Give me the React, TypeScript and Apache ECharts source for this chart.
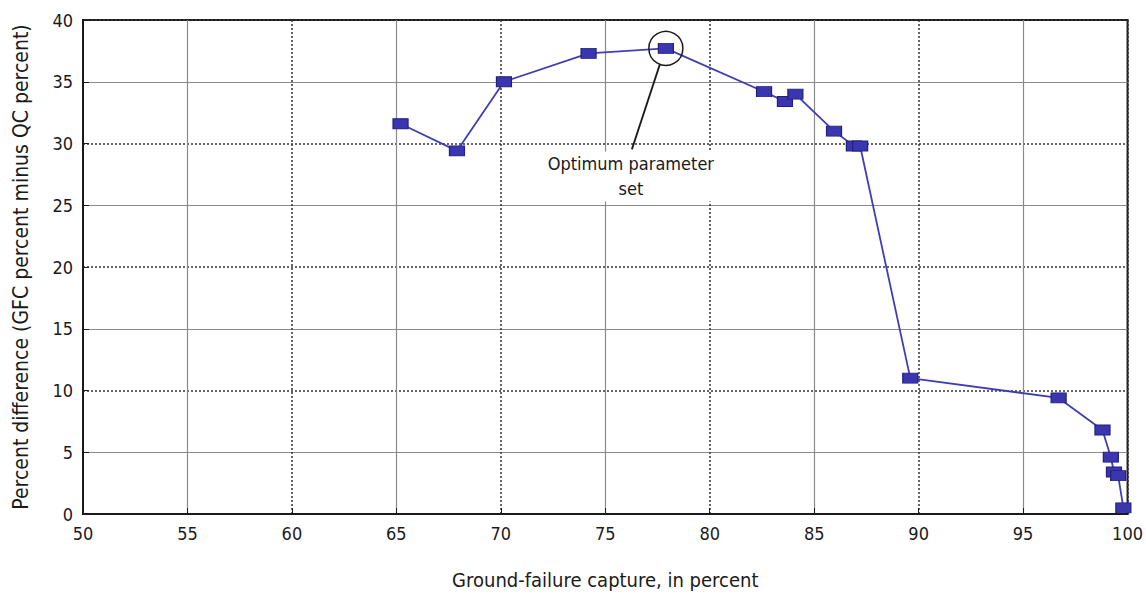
import React, { useEffect, useRef } from "react";
import * as echarts from "echarts";

const gfcCapture = [65.2, 67.9, 70.15, 74.2, 77.9, 82.6, 83.6, 84.1, 85.95, 86.9, 87.2, 89.6, 96.7, 98.8, 99.2, 99.35, 99.55, 99.8];
const percentDiff = [31.6, 29.4, 35.0, 37.3, 37.7, 34.2, 33.4, 34.0, 31.0, 29.8, 29.8, 11.0, 9.4, 6.8, 4.6, 3.4, 3.1, 0.5];
const optimumIndex = 4;
const xTitle = "Ground-failure capture, in percent";
const yTitle = "Percent difference (GFC percent minus QC percent)";
const annotationLines = ["Optimum parameter", "set"];

const FONT = "'Liberation Sans Narrow', 'DejaVu Sans Condensed', 'Roboto Condensed', 'Liberation Sans', sans-serif";

export default function App() {
  const ref = useRef<HTMLDivElement>(null);
  useEffect(() => {
    if (!ref.current) return;
    const chart = echarts.init(ref.current, null, { renderer: "svg" });
    const data = gfcCapture.map((x, i) => [x, percentDiff[i]]);
    const grid = { left: 83, right: 16, top: 20, bottom: 79 };
    chart.setOption({
      animation: false,
      backgroundColor: "#ffffff",
      grid: { ...grid, show: true, borderColor: "#1a1a1a", borderWidth: 2, backgroundColor: "transparent" },
      xAxis: [
        {
          type: "value", min: 50, max: 100, interval: 5,
          name: xTitle, nameLocation: "middle", nameGap: 56,
          nameTextStyle: { fontFamily: FONT, fontSize: 20, color: "#1a1a1a" },
          axisLine: { show: true, lineStyle: { color: "#1a1a1a", width: 2 } },
          axisTick: { show: true, inside: true, length: 6, lineStyle: { color: "#1a1a1a" } },
          axisLabel: { fontFamily: FONT, fontSize: 18, color: "#1a1a1a", margin: 10 },
          splitLine: { show: true, lineStyle: { color: ["transparent", "#8a8a8a"], width: 1.2 } },
        },
        {
          type: "value", min: 50, max: 100, interval: 10, position: "top",
          axisLine: { show: false }, axisTick: { show: false }, axisLabel: { show: false },
          splitLine: { show: true, lineStyle: { color: "#333", type: [2, 2], width: 1.5 } },
        },
      ],
      yAxis: [
        {
          type: "value", min: 0, max: 40, interval: 5,
          name: yTitle, nameLocation: "middle", nameGap: 52,
          nameTextStyle: { fontFamily: FONT, fontSize: 21, color: "#1a1a1a" },
          axisLine: { show: true, lineStyle: { color: "#1a1a1a", width: 2 } },
          axisTick: { show: true, inside: true, length: 6, lineStyle: { color: "#1a1a1a" } },
          axisLabel: { fontFamily: FONT, fontSize: 18, color: "#1a1a1a", margin: 10 },
          splitLine: { show: true, lineStyle: { color: ["transparent", "#8a8a8a"], width: 1.2 } },
        },
        {
          type: "value", min: 0, max: 40, interval: 10, position: "right",
          axisLine: { show: false }, axisTick: { show: false }, axisLabel: { show: false },
          splitLine: { show: true, lineStyle: { color: "#333", type: [2, 2], width: 1.5 } },
        },
      ],
      series: [
        {
          type: "line",
          xAxisIndex: 0, yAxisIndex: 0,
          data,
          symbol: "rect",
          symbolSize: [15, 10],
          showAllSymbol: true,
          lineStyle: { color: "#3f3fb5", width: 1.8 },
          itemStyle: { color: "#3b36b0", borderColor: "#22207a", borderWidth: 1 },
          z: 5,
        },
      ],
    });
    const p = chart.convertToPixel({ xAxisIndex: 0, yAxisIndex: 0 }, data[optimumIndex]) as number[];
    const cx = p[0], cy = p[1];
    const r = 17;
    const tx = cx - 35, ty = cy + 101;
    chart.setOption({
      graphic: [
        { type: "circle", shape: { cx, cy, r }, style: { fill: "none", stroke: "#1a1a1a", lineWidth: 1.5 }, z: 10 },
        { type: "line", shape: { x1: cx - 6, y1: cy + r - 1, x2: cx - 34, y2: cy + 101 }, style: { stroke: "#1a1a1a", lineWidth: 1.8 }, z: 10 },
        {
          type: "text", x: tx, y: ty + 2, z: 10,
          style: { text: annotationLines.join("\n"), fontFamily: FONT, fontSize: 18, fill: "#1a1a1a", align: "center", verticalAlign: "top", lineHeight: 25, backgroundColor: "#fff" },
        },
      ],
    });
    return () => chart.dispose();
  }, []);
  return <div ref={ref} style={{ width: 1146, height: 595, position: "absolute", left: 0, top: 0 }} />;
}
